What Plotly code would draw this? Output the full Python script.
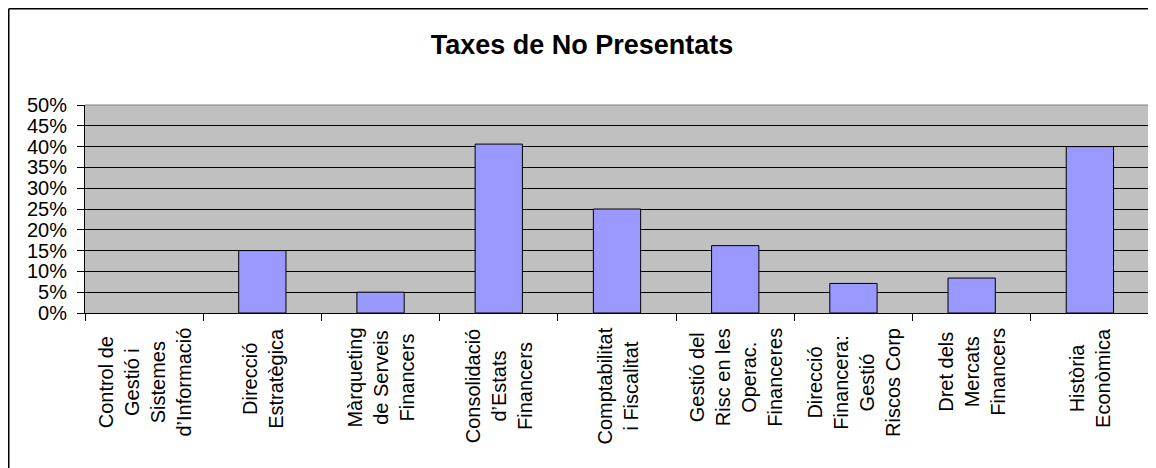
import plotly.graph_objects as go

# ---- data ----
categories = [
    "Control de Gestió i Sistemes d’Informació",
    "Direcció Estratègica",
    "Màrqueting de Serveis Financers",
    "Consolidació d’Estats Financers",
    "Comptabilitat i Fiscalitat",
    "Gestió del Risc en les Operac. Financeres",
    "Direcció Financera: Gestió Riscos Corp",
    "Dret dels Mercats Financers",
    "Història Econòmica",
]
tick_labels = [
    "Control de<br>Gestió i<br>Sistemes<br>d’Informació",
    "Direcció<br>Estratègica",
    "Màrqueting<br>de Serveis<br>Financers",
    "Consolidació<br>d’Estats<br>Financers",
    "Comptabilitat<br>i Fiscalitat",
    "Gestió del<br>Risc en les<br>Operac.<br>Financeres",
    "Direcció<br>Financera:<br>Gestió<br>Riscos Corp",
    "Dret dels<br>Mercats<br>Financers",
    "Història<br>Econòmica",
]
rates = [0.0, 0.15, 0.05, 0.406, 0.25, 0.162, 0.071, 0.084, 0.40]
title_text = "Taxes de No Presentats"

FONT = "Arial, Liberation Sans, sans-serif"

# no outline on empty (zero-height) bars
outline_widths = [1 if v > 0 else 0 for v in rates]

fig = go.Figure(
    go.Bar(
        x=categories,
        y=rates,
        marker=dict(color="#9999FF", line=dict(color="#000000", width=outline_widths)),
        hoverinfo="x+y",
    )
)

# page body has an 8px margin, so the figure is laid out 8px in from the window edge
W, H = 1148, 460
ml, mr, mt, mb = 77, 7, 97, 155
pw, ph = W - ml - mr, H - mt - mb

fig.update_layout(
    width=W,
    height=H,
    margin=dict(l=ml, r=mr, t=mt, b=mb, pad=0),
    paper_bgcolor="white",
    plot_bgcolor="#C0C0C0",
    bargap=0.6,
    showlegend=False,
    font=dict(family=FONT, color="black"),
    title=dict(
        text=title_text,
        font=dict(family=FONT, size=27, color="black", weight="bold"),
        x=574 / W,
        xref="container",
        xanchor="center",
        y=1 - 37 / H,
        yref="container",
        yanchor="middle",
    ),
    xaxis=dict(
        showticklabels=False,
        ticks="outside",
        tickson="boundaries",
        ticklen=7,
        tickcolor="black",
        tickwidth=1,
        showline=True,
        linecolor="black",
        linewidth=1,
        showgrid=False,
    ),
    yaxis=dict(
        range=[0, 0.5],
        dtick=0.05,
        tick0=0,
        tickformat=".0%",
        ticks="outside",
        ticklen=7,
        tickcolor="black",
        ticklabelstandoff=6,
        tickfont=dict(family=FONT, size=20, color="black"),
        showgrid=True,
        gridcolor="black",
        gridwidth=1,
        showline=True,
        linecolor="black",
        linewidth=1,
        zeroline=False,
    ),
)

# category labels (rotated, lines centred)
for cat, lab in zip(categories, tick_labels):
    fig.add_annotation(
        x=cat,
        xref="x",
        y=0,
        yref="paper",
        yshift=-13,
        text=lab,
        textangle=-90,
        showarrow=False,
        xanchor="center",
        yanchor="top",
        align="center",
        font=dict(family=FONT, size=20, color="black"),
    )

# plot-area border (top & right grey)
fig.add_shape(type="line", xref="paper", yref="paper", x0=0, x1=1, y0=1, y1=1,
              line=dict(color="#808080", width=1), layer="above")
fig.add_shape(type="line", xref="paper", yref="paper", x0=1, x1=1, y0=0, y1=1,
              line=dict(color="#808080", width=1), layer="above")

# outer chart border: only its top and left edges are in view
bx = (0.75 - ml) / pw
by_top = (mt + ph - 0.75) / ph
by_bot = -(H - (mt + ph)) / ph
bx_right = (W - ml) / pw
fig.add_shape(type="line", xref="paper", yref="paper", x0=bx, x1=bx_right, y0=by_top, y1=by_top,
              line=dict(color="black", width=1.5), layer="above")
fig.add_shape(type="line", xref="paper", yref="paper", x0=bx, x1=bx, y0=by_bot, y1=by_top,
              line=dict(color="black", width=1.5), layer="above")

fig.write_html("out.html")
